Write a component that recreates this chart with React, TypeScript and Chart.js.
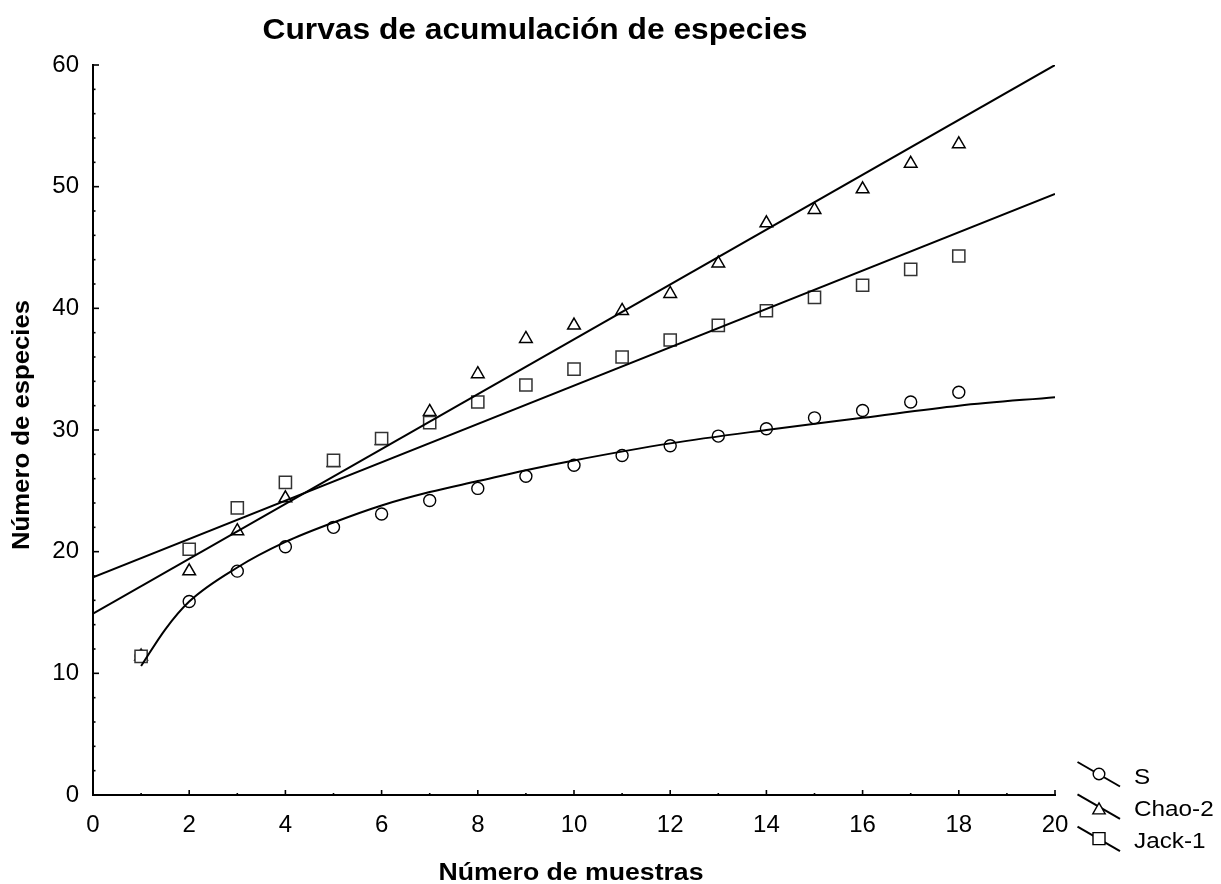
import React, { useEffect, useRef } from 'react';
import { Chart, registerables } from 'chart.js';

Chart.register(...registerables);

// ---- Data ----
const samples = [1, 2, 3, 4, 5, 6, 7, 8, 9, 10, 11, 12, 13, 14, 15, 16, 17, 18];
const sObserved = [11.4, 15.9, 18.4, 20.4, 22.0, 23.1, 24.2, 25.2, 26.2, 27.1, 27.9, 28.7, 29.5, 30.1, 31.0, 31.6, 32.3, 33.1];
const chao2Observed = [11.4, 18.4, 21.7, 24.4, 27.3, 29.1, 31.5, 34.6, 37.5, 38.6, 39.8, 41.2, 43.7, 47.0, 48.1, 49.8, 51.9, 53.5];
const jack1Observed = [11.4, 20.2, 23.6, 25.7, 27.5, 29.3, 30.6, 32.3, 33.7, 35.0, 36.0, 37.4, 38.6, 39.8, 40.9, 41.9, 43.2, 44.3];

// fitted curves
const sFitX = [1, 1.5, 2, 3, 4, 5, 6, 7, 8, 9, 10, 12, 14, 16, 18, 20];
const sFitY = [10.6, 13.6, 15.9, 18.7, 20.8, 22.4, 23.8, 24.9, 25.8, 26.7, 27.5, 28.9, 30.0, 31.0, 32.0, 32.7];
const chao2FitX = [0, 20];
const chao2FitY = [14.9, 60.0];
const jack1FitX = [0, 20];
const jack1FitY = [17.9, 49.4];

const xMin = 0, xMax = 20, xStep = 2;
const yMin = 0, yMax = 60, yStep = 10;

const titleText = 'Curvas de acumulación de especies';
const xTitleText = 'Número de muestras';
const yTitleText = 'Número de especies';
const legendLabels = ['S', 'Chao-2', 'Jack-1'];
const legendMarkers = ['circle', 'triangle', 'rect'];

const FONT = '"Liberation Sans", Arial, Helvetica, sans-serif';

const pts = (xs: number[], ys: number[]) => xs.map((x, i) => ({ x, y: ys[i] }));

function drawStretched(
  ctx: CanvasRenderingContext2D,
  text: string,
  x: number,
  y: number,
  font: string,
  targetWidth: number | null,
  sxDefault: number,
  align: CanvasTextAlign,
  rotate = 0
) {
  ctx.save();
  ctx.font = font;
  const w = ctx.measureText(text).width;
  const sx = targetWidth ? targetWidth / w : sxDefault;
  ctx.translate(x, y);
  if (rotate) ctx.rotate(rotate);
  ctx.scale(sx, 1);
  ctx.textAlign = align;
  ctx.textBaseline = 'alphabetic';
  ctx.fillStyle = '#000';
  ctx.fillText(text, 0, 0);
  ctx.restore();
}

const decorPlugin = {
  id: 'decor',
  afterDraw(chart: any) {
    const ctx: CanvasRenderingContext2D = chart.ctx;
    const { left, right, top, bottom } = chart.chartArea;
    const xs = chart.scales.x;
    const ys = chart.scales.y;

    // axes
    ctx.save();
    ctx.strokeStyle = '#000';
    ctx.lineWidth = 2;
    ctx.lineCap = 'square';
    ctx.beginPath();
    ctx.moveTo(left, top);
    ctx.lineTo(left, bottom);
    ctx.lineTo(right, bottom);
    ctx.stroke();
    ctx.lineCap = 'butt';
    ctx.lineWidth = 1.6;
    // y ticks (inward)
    for (let v = yMin; v <= yMax; v += 2) {
      const py = ys.getPixelForValue(v);
      const len = v % yStep === 0 ? 6 : 2.5;
      ctx.beginPath();
      ctx.moveTo(left, py);
      ctx.lineTo(left + len, py);
      ctx.stroke();
    }
    // x ticks (inward)
    for (let v = xMin; v <= xMax; v += 1) {
      const px = xs.getPixelForValue(v);
      const len = v % xStep === 0 ? 5 : 2;
      ctx.beginPath();
      ctx.moveTo(px, bottom);
      ctx.lineTo(px, bottom - len);
      ctx.stroke();
    }
    ctx.restore();

    // titles
    drawStretched(ctx, titleText, 535, 39, `bold 29px ${FONT}`, 545, 1, 'center');
    drawStretched(ctx, xTitleText, (left + right) / 2 - 3, 880, `bold 23.5px ${FONT}`, 265, 1, 'center');
    drawStretched(ctx, yTitleText, 29, (top + bottom) / 2 - 5, `bold 23.5px ${FONT}`, 250, 1, 'center', -Math.PI / 2);

    // legend
    ctx.save();
    for (let i = 0; i < legendLabels.length; i++) {
      const cy = bottom - 21 + i * 32.3;
      ctx.strokeStyle = '#000';
      ctx.lineWidth = 2;
      ctx.beginPath();
      ctx.moveTo(right + 22.5, cy - 12);
      ctx.lineTo(right + 65, cy + 12.5);
      ctx.stroke();
      const mx = right + 44;
      ctx.fillStyle = '#fff';
      ctx.lineWidth = 1.4;
      ctx.beginPath();
      if (legendMarkers[i] === 'circle') {
        ctx.arc(mx, cy, 5.8, 0, Math.PI * 2);
      } else if (legendMarkers[i] === 'triangle') {
        const tcy = cy + 2.2;
        ctx.moveTo(mx, tcy - 5.6);
        ctx.lineTo(mx + 6.2, tcy + 5.4);
        ctx.lineTo(mx - 6.2, tcy + 5.4);
        ctx.closePath();
      } else {
        ctx.rect(mx - 6, cy - 6, 12, 12);
      }
      ctx.fill();
      ctx.stroke();
      drawStretched(ctx, legendLabels[i], right + 79, cy + 9.5, `22.5px ${FONT}`, null, 1.08, 'left');
    }
    ctx.restore();
  },
};

export default function App() {
  const ref = useRef<HTMLCanvasElement | null>(null);

  useEffect(() => {
    if (!ref.current) return;
    const tickFont = { family: FONT, size: 24 };
    const chart = new Chart(ref.current, {
      type: 'scatter',
      data: {
        datasets: [
          {
            label: 'S ajuste',
            data: pts(sFitX, sFitY),
            showLine: true,
            borderColor: '#000',
            borderWidth: 2,
            pointRadius: 0,
            cubicInterpolationMode: 'monotone',
            fill: false,
            order: 0,
          },
          {
            label: 'Chao-2 ajuste',
            data: pts(chao2FitX, chao2FitY),
            showLine: true,
            borderColor: '#000',
            borderWidth: 2,
            pointRadius: 0,
            fill: false,
            order: 0,
          },
          {
            label: 'Jack-1 ajuste',
            data: pts(jack1FitX, jack1FitY),
            showLine: true,
            borderColor: '#000',
            borderWidth: 2,
            pointRadius: 0,
            fill: false,
            order: 0,
          },
          {
            label: 'S',
            data: pts(samples, sObserved),
            showLine: false,
            pointStyle: 'circle',
            pointRadius: 6,
            borderColor: '#000',
            backgroundColor: '#fff',
            borderWidth: 1.4,
            order: 3,
          },
          {
            label: 'Chao-2',
            data: pts(samples, chao2Observed),
            showLine: false,
            pointStyle: 'triangle',
            pointRadius: 7.3,
            borderColor: '#000',
            backgroundColor: '#fff',
            borderWidth: 1.5,
            order: 2,
          },
          {
            label: 'Jack-1',
            data: pts(samples, jack1Observed),
            showLine: false,
            pointStyle: 'rect',
            pointRadius: 8.6,
            borderColor: '#333',
            backgroundColor: '#fff',
            borderWidth: 1.5,
            order: 1,
          },
        ],
      },
      options: {
        responsive: false,
        animation: false,
        events: [],
        layout: { padding: { top: 65, right: 166, left: 0, bottom: 0 } },
        plugins: {
          legend: { display: false },
          title: { display: false },
          tooltip: { enabled: false },
        },
        scales: {
          x: {
            type: 'linear',
            min: xMin,
            max: xMax,
            ticks: { stepSize: xStep, color: '#000', font: tickFont, padding: 16, maxRotation: 0 },
            grid: { display: false, drawTicks: false },
            border: { display: false },
            afterFit: (s: any) => {
              s.height = 89;
            },
          },
          y: {
            type: 'linear',
            min: yMin,
            max: yMax,
            ticks: { stepSize: yStep, color: '#000', font: tickFont, padding: 14 },
            grid: { display: false, drawTicks: false },
            border: { display: false },
            afterFit: (s: any) => {
              s.width = 93;
            },
          },
        },
      } as any,
      plugins: [decorPlugin],
    });
    return () => chart.destroy();
  }, []);

  return (
    <div style={{ position: 'fixed', left: 0, top: 0, width: 1221, height: 884, background: '#fff' }}>
      <canvas ref={ref} width={1221} height={884} style={{ display: 'block' }} />
    </div>
  );
}
